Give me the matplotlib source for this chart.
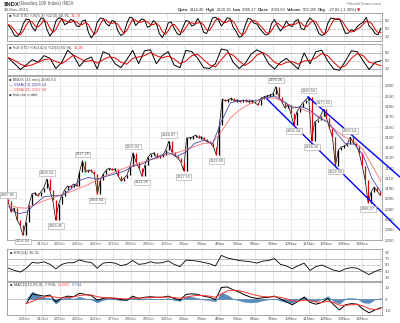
import numpy as np
import matplotlib
matplotlib.use("Agg")
import matplotlib.pyplot as plt

plt.rcParams['font.family'] = ['Liberation Sans', 'DejaVu Sans']

W, H = 400, 323

# $NDX 15 min, sampled closes 19 Oct - 17 Nov 2015
closes = [2087.85, 2077.3, 2081.2, 2069.5, 2064.6, 2054.64, 2067.5, 2084.1, 2094.8, 2095.8,
          2092.9, 2096.8, 2100.7, 2109.24, 2098.7, 2089.0, 2069.45, 2085.1, 2092.9, 2098.7,
          2102.6, 2101.6, 2104.5, 2102.6, 2116.2, 2127.26, 2116.2, 2118.2, 2117.2, 2114.3,
          2094.64, 2108.4, 2114.3, 2118.2, 2120.1, 2118.2, 2119.2, 2112.3, 2107.5, 2110.4,
          2113.3, 2122.1, 2135.03, 2126.0, 2120.1, 2112.09, 2123.1, 2130.8, 2133.8, 2134.7,
          2129.9, 2131.8, 2132.8, 2137.7, 2146.07, 2135.7, 2131.8, 2129.9, 2126.0, 2117.53,
          2149.4, 2149.4, 2150.3, 2152.3, 2149.4, 2150.3, 2147.4, 2146.4, 2144.5, 2140.6,
          2132.69, 2162.0, 2187.3, 2185.4, 2186.4, 2188.3, 2185.4, 2186.4, 2184.4, 2186.4,
          2185.4, 2184.4, 2185.4, 2183.4, 2181.5, 2188.3, 2189.3, 2190.3, 2191.2, 2192.2,
          2199.36, 2189.3, 2184.4, 2178.6, 2181.5, 2173.7, 2162.34, 2174.7, 2179.5, 2183.4,
          2186.4, 2189.50, 2146.50, 2164.9, 2166.9, 2170.8, 2177.21, 2168.8, 2159.1, 2150.3,
          2122.50, 2137.7, 2140.6, 2141.6, 2143.5, 2150.14, 2144.5, 2142.5, 2134.7, 2122.1,
          2108.4, 2086.27, 2096.8, 2101.6, 2097.7, 2093.63]
first_open = 2090.0

# swing highs / lows that carry a value box
swing_idx = [0, 5, 13, 16, 25, 30, 42, 45, 54, 59, 70, 90, 96, 101, 102, 106, 110, 115, 121]
swing_up = [True, False, True, False, True, False, True, False, True, False,
            False, True, False, True, False, True, False, True, False]

ema13 = [2082.6, 2075.6, 2077.0, 2085.1, 2092.1, 2093.2, 2093.1, 2099.3, 2108.0, 2110.9,
         2109.2, 2112.0, 2114.3, 2116.9, 2121.7, 2123.8, 2128.1, 2131.6, 2135.0, 2131.5,
         2135.7, 2144.1, 2147.1, 2143.8, 2165.4, 2183.4, 2185.8, 2186.1, 2186.0, 2188.5,
         2190.3, 2185.0, 2178.5, 2179.8, 2176.5, 2169.0, 2164.8, 2154.0, 2143.9, 2143.3,
         2132.5, 2109.6, 2096.54]
ema34 = [2084.6, 2081.5, 2081.0, 2084.6, 2088.2, 2091.1, 2094.3, 2097.0, 2100.5, 2104.0,
         2108.8, 2112.7, 2116.2, 2119.7, 2122.9, 2125.5, 2128.0, 2130.7, 2133.3, 2135.1,
         2137.9, 2141.2, 2144.1, 2144.5, 2155.7, 2168.5, 2176.3, 2181.7, 2185.2, 2188.3,
         2188.3, 2184.5, 2180.4, 2177.6, 2174.4, 2170.3, 2164.5, 2155.9, 2149.7, 2145.9,
         2137.6, 2122.5, 2107.30]

# trend channel drawn on the price panel: (day, price) end points
channel_lower = [(13.66, 2187.3), (21.15, 2059.7)]
channel_upper = [(15.97, 2189.3), (21.15, 2111.4)]

# fast stochastic
sto1_k = [62, 45, 22, 18, 35, 70, 88, 85, 55, 40, 72, 92, 88, 45, 20, 38, 80, 93, 90, 65,
          72, 86, 82, 60, 58, 80, 84, 35, 12, 30, 75, 92, 90, 70, 60, 82, 78, 40, 22, 30,
          70, 95, 92, 62, 75, 88, 84, 55, 60, 82, 70, 30, 14, 35, 72, 76, 52, 30, 24, 55,
          82, 78, 60, 65, 90, 70, 35, 30, 60, 92, 95, 85, 60, 75, 93, 90, 55, 38, 15, 20,
          60, 90, 88, 72, 68, 50, 35, 24, 28, 70, 86, 60, 40, 55, 80, 62, 58, 80, 86, 50,
          45, 75, 92, 80, 60, 30, 22, 28, 70, 92, 90, 86, 88, 60, 30, 32, 45, 40, 58, 68,
          75, 95, 60, 48, 30, 25, 50.91]
sto1_d = [66, 58, 43, 28, 25, 41, 64, 81, 76, 60, 56, 68, 84, 75, 51, 34, 46, 70, 88, 83,
          76, 74, 80, 76, 67, 66, 74, 66, 44, 26, 39, 66, 86, 84, 73, 71, 73, 67, 47, 31,
          41, 65, 86, 83, 76, 75, 82, 76, 66, 66, 71, 61, 38, 26, 40, 61, 67, 53, 35, 36,
          54, 72, 73, 68, 72, 75, 65, 45, 42, 61, 82, 91, 80, 73, 76, 86, 79, 61, 36, 24,
          32, 57, 79, 83, 76, 63, 51, 36, 29, 41, 61, 72, 62, 52, 58, 66, 67, 67, 75, 72,
          60, 57, 71, 82, 77, 57, 37, 27, 40, 63, 84, 89, 88, 78, 59, 41, 36, 39, 48, 55,
          67, 79, 77, 68, 46, 34, 34.79]

# slow stochastic
sto2_k = [60, 40, 18, 35, 55, 45, 70, 60, 22, 45, 90, 70, 30, 55, 65, 20, 85, 75, 40, 25,
          55, 90, 40, 88, 92, 40, 70, 85, 35, 25, 90, 85, 60, 25, 22, 40, 95, 90, 45, 22,
          40, 75, 92, 80, 40, 20, 45, 60, 40, 20, 80, 40, 85, 90, 50, 20, 15, 50, 88, 85,
          50, 18, 45, 50.96]
sto2_d = [62, 52, 38, 30, 36, 45, 55, 58, 48, 40, 55, 72, 60, 48, 52, 42, 55, 65, 62, 45,
          38, 60, 65, 70, 82, 70, 62, 68, 58, 40, 50, 70, 75, 55, 35, 28, 55, 80, 72, 50,
          33, 48, 72, 82, 68, 45, 35, 45, 48, 38, 50, 52, 62, 78, 70, 45, 25, 32, 60, 78,
          70, 45, 40, 31.95]

rsi = [40, 33, 28, 40, 58, 56, 60, 52, 38, 52, 57, 57, 66, 60, 58, 40, 56, 58, 56, 48,
       52, 64, 52, 54, 60, 56, 57, 63, 52, 45, 65, 64, 62, 58, 54, 47, 80, 72, 68, 64,
       62, 60, 56, 62, 64, 70, 52, 47, 38, 48, 56, 33, 45, 50, 42, 34, 30, 38, 42, 40,
       30, 20, 30, 36.31]

nan = np.nan
macd = [nan, nan, nan, -4, 4.5, 3.5, 2.5, 3.5, -2.5, 1, 2.5, 2, 5, 4, 3, -1, 0.5, 1, 0.5, -0.5,
        -1, 2.5, 0.5, 1.5, 2, 1.5, 1.5, 2.5, 0.5, -1, 4, 4.5, 4, 2.5, 1.5, -0.5, 10, 10.5, 8, 6,
        3.5, 1.5, 0.5, 1, 1.5, 2.5, 0, -2.5, -5, -2, 1.5, -3, -4.5, -3, 0.5, -5, -9.5, -5, -4, -4.5,
        -9, -12, -9.5, -7.504]
macd_signal = [nan, nan, nan, -4, -2, 0, 1.5, 2.5, 1.5, 0.8, 1.2, 1.8, 3, 3.6, 3.5, 2, 1.2, 1, 0.8, 0.4,
               0, 0.8, 0.8, 1, 1.4, 1.5, 1.5, 1.8, 1.4, 0.6, 1.6, 2.6, 3.2, 3.0, 2.5, 1.5, 4.5, 7, 7.8, 7.2,
               6, 4.5, 3, 2.2, 1.8, 2, 1.4, 0.2, -1.6, -2, -1, -1.5, -2.5, -3, -2, -3, -5.5, -5.5, -5, -4.8,
               -6, -8.5, -9.2, -8.299]
macd_hist = [nan, nan, nan, 0, 6.5, 3.5, 1, 1, -4, 0.2, 1.3, 0.2, 2, 0.4, -0.5, -3, -0.7, 0, -0.3, -0.9,
             -1, 1.7, -0.3, 0.5, 0.6, 0, 0, 0.7, -0.9, -1.6, 2.4, 1.9, 0.8, -0.5, -1, -2, 5.5, 3.5, 0.2, -1.2,
             -2.5, -3, -2.5, -1.2, -0.3, 0.5, -1.4, -2.7, -3.4, 0, 2.5, -1.5, -2, 0, 2.5, -2, -4, 0.5, 1, 0.3,
             -3, -3.5, -0.3, 0.794]

day_labels = ['20Oct', '21Oct', '22Oct', '23Oct', '26Oct', '27Oct', '28Oct', '29Oct', '30Oct',
              '2Nov', '3Nov', '4Nov', '5Nov', '6Nov', '9Nov', '10Nov', '11Nov', '12Nov', '13Nov', '16Nov']

# ---------------- layout helpers ----------------
XMIN, XMAX = -0.99, 20.14
GRID = '#dcdcdc'
TXT = '#444444'


def box(top, bottom, left=7, right=382):
    return [left / W, 1 - bottom / H, (right - left) / W, (bottom - top) / H]


def ftext(x, y, s, **kw):
    kw.setdefault('fontsize', 3.3)
    kw.setdefault('color', TXT)
    kw.setdefault('va', 'center')
    return fig.text(x / W, 1 - y / H, s, **kw)


def text_row(x, y, pieces, gap=2.0):
    """lay out (text, kwargs) pieces left to right without overlap"""
    r = fig.canvas.get_renderer()
    for s, kw in pieces:
        t = ftext(x, y, s, **kw)
        x += t.get_window_extent(renderer=r).width + gap
    return x


def style_panel(ax, ylim, yticks, ylabels=None):
    ax.set_xlim(XMIN, XMAX)
    ax.set_ylim(*ylim)
    for s in ax.spines.values():
        s.set_color('#9a9a9a')
        s.set_linewidth(0.6)
    for d in range(-1, 21):
        ax.axvline(d, color=GRID, lw=0.5, zorder=0)
    ax.yaxis.tick_right()
    ax.set_yticks(yticks)
    ax.set_yticklabels(ylabels if ylabels else [str(t) for t in yticks])
    ax.tick_params(axis='y', length=0, pad=2, labelsize=3.2, labelcolor='#555555')
    ax.tick_params(axis='x', length=0, pad=1.5, labelsize=3.2, labelcolor='#555555')
    ax.set_xticks(range(20))
    ax.set_xticklabels([])


fig = plt.figure(figsize=(W / 100, H / 100), dpi=100)
fig.patch.set_facecolor('white')

ax_s1 = fig.add_axes(box(13, 41))
ax_s2 = fig.add_axes(box(44, 75))
ax_p = fig.add_axes(box(76, 240))
ax_r = fig.add_axes(box(249, 281))
ax_m = fig.add_axes(box(282, 315))

x_px = np.linspace(-0.93, 20.03, len(closes))
x_ema = np.linspace(-0.90, 20.08, len(ema13))
x_s1 = np.linspace(-0.90, 20.08, len(sto1_k))
x_osc = np.linspace(-0.90, 20.08, len(rsi))

# ---------------- stochastics ----------------
for ax, k, d, xs, lim in [(ax_s1, sto1_k, sto1_d, x_s1, (0, 112)),
                          (ax_s2, sto2_k, sto2_d, x_osc, (-2.5, 113.7))]:
    style_panel(ax, lim, [80, 50, 20])
    ax.axhline(80, color='#b0b0b0', lw=0.6, zorder=1)
    ax.axhline(20, color='#b0b0b0', lw=0.6, zorder=1)
    ax.axhline(50, color='#b0b0b0', lw=0.5, ls=(0, (4, 1, 1, 1)), zorder=1)
    ax.plot(xs, k, color='black', lw=0.7, zorder=3)
    ax.plot(xs, d, color='#e00000', lw=0.7, zorder=4)

text_row(9, 16, [('■ Full STO %K(5,3) %D(3) 50.91,', dict(fontsize=3.0)),
                 ('34.79', dict(fontsize=3.0, color='#ff4040'))], gap=1.2)
text_row(9, 48, [('■ Full STO %K(14,3) %D(3) 50.96,', dict(fontsize=3.0)),
                 ('31.95', dict(fontsize=3.0, color='#ff4040'))], gap=1.2)

# ---------------- price panel ----------------
style_panel(ax_p, (2050, 2209.7), list(range(2050, 2201, 10)))
for p in range(2050, 2210, 10):
    ax_p.axhline(p, color='#ececec', lw=0.5, zorder=0)
ax_p.set_xticklabels(day_labels)

# candles: thin close line underneath keeps the bars joined up
ax_p.plot(x_px, closes, color='black', lw=0.5, zorder=2)
opens = [first_open] + closes[:-1]
for x, o, c in zip(x_px, opens, closes):
    col = 'black' if c >= o else '#e00000'
    lo, hi = min(o, c), max(o, c)
    if hi - lo < 1.2:
        hi += 0.6
        lo -= 0.6
    ax_p.vlines(x, lo, hi, color=col, lw=0.9, zorder=3)

ax_p.plot(x_ema, ema34, color='#ff7070', lw=0.6, zorder=4)
ax_p.plot(x_ema, ema13, color='#4a4aa8', lw=0.6, zorder=4)

for pts in (channel_lower, channel_upper):
    (xa, ya), (xb, yb) = pts
    ax_p.plot([xa, xb], [ya, yb], color='#0000ff', lw=1.0, zorder=5, clip_on=False)

for i, up in zip(swing_idx, swing_up):
    ax_p.annotate('%.2f' % closes[i], (x_px[i], closes[i]),
                  xytext=(0, 3.0 if up else -3.0), textcoords='offset points',
                  ha='center', va='bottom' if up else 'top', fontsize=2.8, color='#555555',
                  bbox=dict(boxstyle='square,pad=0.2', fc='white', ec='#a0a0a0', lw=0.4),
                  zorder=6)

ftext(9, 80, '■ $NDX (15 min) 2093.63', fontsize=3.0)
ftext(9, 85, '— EMA(13) 2096.54', fontsize=3.0, color='#4a4aa8')
ftext(9, 90, '— EMA(34) 2107.30', fontsize=3.0, color='#ff5050')
ftext(9, 95, '■ Volume undef', fontsize=3.0)

# ---------------- RSI ----------------
style_panel(ax_r, (0, 100), [90, 70, 50, 30, 10])
ax_r.axhline(70, color='#b0b0b0', lw=0.6)
ax_r.axhline(30, color='#b0b0b0', lw=0.6)
ax_r.axhline(50, color='#b0b0b0', lw=0.5, ls=(0, (4, 1, 1, 1)))
ax_r.plot(x_osc, rsi, color='black', lw=0.6, zorder=3)
ftext(10, 253, '■ RSI(14) 36.31', fontsize=3.0)

# ---------------- MACD ----------------
style_panel(ax_m, (-13.9, 14.8), [10, 0, -10])
ax_m.set_xticklabels(day_labels)
ax_m.axhline(0, color='#b0b0b0', lw=0.5)
hist = np.array(macd_hist, dtype=float)
ax_m.fill_between(x_osc, 0, hist, color='#3a78b0', alpha=0.85, lw=0.3, zorder=2)
ax_m.plot(x_osc, macd, color='black', lw=0.7, zorder=3)
ax_m.plot(x_osc, macd_signal, color='#ff3030', lw=0.7, zorder=4)
text_row(10, 285, [('■ MACD(12,26,9) -7.504,', dict(fontsize=3.0)),
                   ('-8.299,', dict(fontsize=3.0, color='#ff4040')),
                   ('0.794', dict(fontsize=3.0, color='#4a78c0'))], gap=1.2)

# ---------------- header ----------------
ftext(4, 4, '$NDX', fontsize=4.2, fontweight='bold', color='#222222')
ftext(19, 4, '(Nasdaq 100 Index) INDX', fontsize=3.4, color='#555555')
ftext(4, 10, '18-Nov-2015', fontsize=3.2, color='#555555')
ftext(382, 4, '©StockCharts.com', fontsize=3.2, color='#777777', ha='right')
b = dict(fontsize=3.0, fontweight='bold', color='#333333')
n = dict(fontsize=3.0, color='#333333')
text_row(178, 10, [('Open', b), ('2114.40', n), ('High', b), ('2120.18', n), ('Low', b),
                   ('2086.27', n), ('Close', b), ('2093.63', n), ('Volume', b), ('502.1M', n),
                   ('Chg', b), ('-27.66 (-1.30%)', n),
                   ('▼', dict(fontsize=3.0, color='#e00000', family='DejaVu Sans'))], gap=1.5)

fig.savefig('out.png', dpi=100, facecolor='white')
